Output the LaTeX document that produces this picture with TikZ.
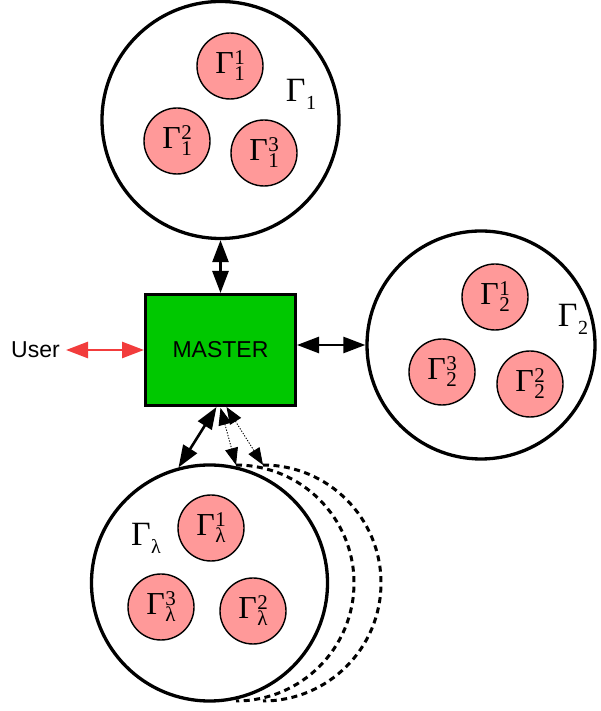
\documentclass[tikz,border=0pt]{standalone}
\usepackage{fontspec}
\setmainfont{Liberation Serif}
\newfontfamily\labelsans{Liberation Sans}
\usetikzlibrary{arrows.meta,calc}
\definecolor{mastergreen}{RGB}{0,200,0}
\definecolor{subpink}{RGB}{255,153,153}
\definecolor{userred}{RGB}{242,60,60}
% Gamma with a stacked superscript and subscript
\newcommand\gss[2]{Γ\kern0.5pt\rlap{\raisebox{8.5pt}{\fontsize{21}{21}\selectfont #1}}%
  \raisebox{-7.5pt}{\fontsize{21}{21}\selectfont #2}}
% Gamma with a subscript only
\newcommand\gsb[1]{Γ\kern0.5pt\raisebox{-8pt}{\fontsize{20}{20}\selectfont #1}}
\begin{document}
\begin{tikzpicture}[x=1pt,y=1pt,
  group/.style={circle,draw=black,line width=3.3pt,fill=white,inner sep=0pt,minimum size=#1},
  sub/.style={circle,draw=black,line width=1.4pt,fill=subpink,inner sep=0pt,minimum size=66pt,
    font=\fontsize{32}{36}\selectfont},
  glabel/.style={inner sep=0pt,font=\fontsize{34}{38}\selectfont},
  sanslabel/.style={inner sep=0pt,font=\labelsans\fontsize{23}{27}\selectfont},
  link/.style={line width=2.6pt,arrows={Triangle[length=22pt,width=16pt]-Triangle[length=22pt,width=16pt]}},
  dotlink/.style={line width=0.9pt,dash pattern=on 1.2pt off 1.6pt,
    arrows={Triangle[length=17pt,width=13pt]-Triangle[length=17pt,width=13pt]}},
  ghost/.style={line width=3pt,dash pattern=on 6pt off 4.5pt}]
\fill[white] (0,0) rectangle (600,711);
\useasboundingbox (0,0) rectangle (600,711);

% dashed outlines standing for further groups behind Gamma_lambda
\coordinate (a1top) at (236,246);
\coordinate (a2top) at (263,246);
\draw[ghost] (a2top) arc[start angle=90,end angle=-90,radius=118pt];
\draw[ghost] (a1top) arc[start angle=90,end angle=-90,radius=118pt];

% group Gamma_1
\node[group=237pt] (g1) at (220.5,591) {};
\node[sub] (g11) at (230,645) {\gss{1}{1}};
\node[sub] (g12) at (177,570) {\gss{2}{1}};
\node[sub] (g13) at (264,558) {\gss{3}{1}};
\node[glabel] (g1l) at (301,617) {\gsb{1}};

% group Gamma_2
\node[group=228pt] (g2) at (481,366) {};
\node[sub] (g21) at (495,414) {\gss{1}{2}};
\node[sub] (g23) at (442,339) {\gss{3}{2}};
\node[sub] (g22) at (530,327) {\gss{2}{2}};
\node[glabel] (g2l) at (573,392) {\gsb{2}};

% group Gamma_lambda
\node[group=236pt] (gl) at (209.5,128) {};
\node[sub] (gl1) at (211,183) {\gss{1}{λ}};
\node[sub] (gl3) at (161,104) {\gss{3}{λ}};
\node[sub] (gl2) at (253,100) {\gss{2}{λ}};
\node[glabel] (gll) at (146,173) {\gsb{λ}};

% master and user
\node[draw=black,line width=3pt,fill=mastergreen,minimum width=150pt,minimum height=111pt,
  inner sep=0pt,sanslabel] (master) at (220.5,361) {MASTER};
\node[sanslabel] (user) at (35.5,361) {User};
\coordinate (userend) at (66,361);

% connectors
\draw[link,userred] (userend) -- (master.west);
\draw[link] (g1.south) -- (master.north);
\draw[link] (master.east |- g2.west) -- (g2.west);
\draw[link] ($(master.south)+(-4,0)$) -- (gl.105);
\draw[dotlink] ($(master.south)+(0,-1)$) -- (a1top);
\draw[dotlink] ($(master.south)+(6,0)$) -- (a2top);
\end{tikzpicture}
\end{document}
